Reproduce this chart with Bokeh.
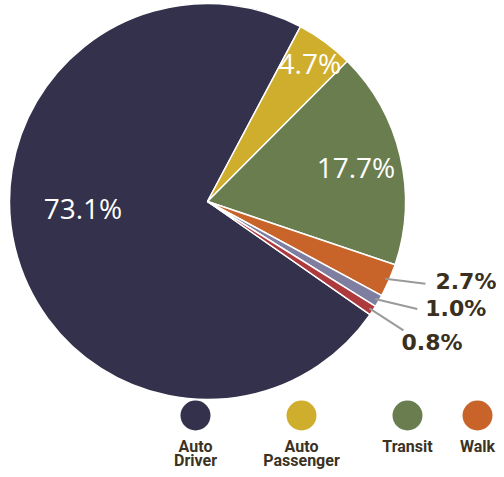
import math
from bokeh.plotting import figure
from bokeh.models import Range1d, ColumnDataSource
from bokeh.core.properties import value
from bokeh.embed import file_html
from bokeh.resources import INLINE

# ---- data ----
categories = ["Auto\nDriver", "Auto\nPassenger", "Transit", "Walk", "Other", "Bicycle"]
shares = [73.1, 4.7, 17.7, 2.7, 1.0, 0.8]
share_labels = ["73.1%", "4.7%", "17.7%", "2.7%", "1.0%", "0.8%"]
colors = ["#33314b", "#cfae2e", "#697d4f", "#c8642a", "#7e7ea0", "#ad3a3c"]

# ---- layout / style ----
W, H = 496, 469
def Y(py):  # picture pixel y -> data y
    return H - py
CX, CY, R = 207, Y(201), 198
ROT_CW = 28.0 - shares[0] * 3.6   # clockwise-from-north angle where first slice starts

p = figure(width=W, height=H, output_backend="svg", toolbar_location=None,
           x_range=Range1d(0, W), y_range=Range1d(0, H), min_border=0)
p.axis.visible = False
p.grid.visible = False
p.outline_line_color = None
p.background_fill_color = "white"

starts, ends, mids = [], [], []
cw = ROT_CW
for s in shares:
    a0 = cw
    a1 = cw + s * 3.6
    starts.append(math.radians(90 - a0))
    ends.append(math.radians(90 - a1))
    mids.append(math.radians(90 - (a0 + a1) / 2))
    cw = a1

src = ColumnDataSource(dict(start=starts, end=ends, color=colors))
p.wedge(x=CX, y=CY, radius=R, start_angle="start", end_angle="end", direction="clock",
        fill_color="color", line_color="white", line_width=1.5, source=src)

# inside labels (first three slices)
inside_frac = [0.63, 0.87, 0.77]
inside_nudge = [math.radians(-10.8), 0.0, 0.0]
ix, iy, it = [], [], []
for i in range(3):
    a = mids[i] + inside_nudge[i]
    ix.append(CX + inside_frac[i] * R * math.cos(a))
    iy.append(CY + inside_frac[i] * R * math.sin(a))
    it.append(share_labels[i])
p.text(x=ix, y=iy, text=it, text_color="white", text_font=value("Open Sans"),
       text_font_size="28px", text_align="center", text_baseline="middle")

# outside labels with leader lines
lead_dx = [40, 42, 34]
lead_dy = [-5, -10, -22]
lab_dx = [10, 8, -2]
lab_dy = [2, 0, -12]
for k, i in enumerate(range(3, 6)):
    sx = CX + (R - 4) * math.cos(mids[i])
    sy = CY + (R - 4) * math.sin(mids[i])
    ex, ey = sx + lead_dx[k], sy + lead_dy[k]
    p.line(x=[sx, ex], y=[sy, ey], line_color="#9a9a9a", line_width=2)
    p.text(x=[ex + lab_dx[k]], y=[ey + lab_dy[k]], text=[share_labels[i]],
           text_color="#3b2f1e", text_font=value("DejaVu Sans"), text_font_style="bold",
           text_font_size="22px", text_align="left", text_baseline="middle")

# legend (entries that would fall past the right edge are pulled inside)
LEG_N = 4
LEG_X0, LEG_STEP, LEG_Y = 195, 106, Y(415)
LINE1_Y, LINE_GAP = Y(446), 14
lx = [min(LEG_X0 + LEG_STEP * i, W - 19) for i in range(LEG_N)]
p.scatter(x=lx, y=[LEG_Y] * LEG_N, marker="circle", size=30, fill_color=colors[:LEG_N],
          line_color=None)
tx, ty, tt = [], [], []
for i in range(LEG_N):
    for j, part in enumerate(categories[i].split("\n")):
        tx.append(lx[i])
        ty.append(LINE1_Y - j * LINE_GAP)
        tt.append(part)
p.text(x=tx, y=ty, text=tt, text_color="#3b3224",
       text_font=value("Roboto"), text_font_style="bold",
       text_font_size="16px", text_align="center", text_baseline="middle")

open("out.html", "w").write(file_html(p, INLINE))
